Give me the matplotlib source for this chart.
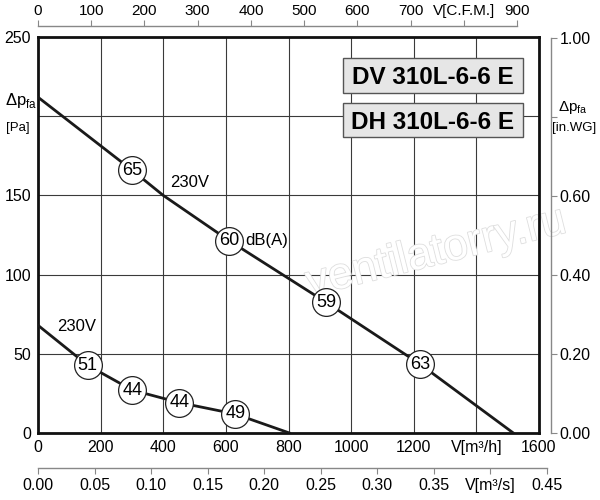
import matplotlib
matplotlib.use("Agg")
import matplotlib.pyplot as plt
import matplotlib.patheffects as pe
from matplotlib.patches import Rectangle

plt.rcParams['font.family'] = ['Liberation Sans', 'DejaVu Sans']

# --- data (m3/h, Pa) ---
flow_upper = [0, 300, 400, 610, 920, 1220, 1518]
pres_upper = [212, 166, 150, 121.5, 82.5, 43.5, 0]
flow_lower = [0, 159, 301, 451, 630, 803]
pres_lower = [68, 42.7, 27.1, 19.2, 12, 0]

# noise markers: (flow, pressure, dB)
mark_upper_flow = [300, 610, 920, 1220]
mark_upper_pres = [166, 121.5, 82.5, 43.5]
mark_upper_db = ["65", "60", "59", "63"]
mark_lower_flow = [159, 301, 451, 630]
mark_lower_pres = [42.7, 27.1, 19.2, 12]
mark_lower_db = ["51", "44", "44", "49"]

x_ticks = [0, 200, 400, 600, 800, 1000, 1200, 1400, 1600]
x_labels = ["0", "200", "400", "600", "800", "1000", "1200", "V[m³/h]", "1600"]
y_ticks = [0, 50, 100, 150, 200, 250]
y_labels = ["0", "50", "100", "150", "", "250"]
cfm_ticks = [0, 100, 200, 300, 400, 500, 600, 700, 800, 900]
cfm_labels = ["0", "100", "200", "300", "400", "500", "600", "700", "V[C.F.M.]", "900"]
m3s_ticks = [0.00, 0.05, 0.10, 0.15, 0.20, 0.25, 0.30, 0.35, 0.40, 0.45]
m3s_labels = ["0.00", "0.05", "0.10", "0.15", "0.20", "0.25", "0.30", "0.35", "V[m³/s]", "0.45"]
wg_ticks = [0.0, 0.2, 0.4, 0.6, 0.8, 1.0]
wg_labels = ["0.00", "0.20", "0.40", "0.60", "", "1.00"]
models = ["DV 310L-6-6 E", "DH 310L-6-6 E"]

W, H = 600, 500
fig = plt.figure(figsize=(6, 5), dpi=100)

L, R, T, B = 38, 539, 37, 433
ax = fig.add_axes([L / W, 1 - B / H, (R - L) / W, (B - T) / H])
ax.set_xlim(0, 1600)
ax.set_ylim(0, 250)
ax.set_xticks(x_ticks)
ax.set_xticklabels(x_labels)
ax.set_yticks(y_ticks)
ax.set_yticklabels(y_labels)
ax.tick_params(length=0, labelsize=11.5, pad=5)
ax.grid(True, color='#3a3a3a', linewidth=0.8)
ax.set_axisbelow(True)
for s in ax.spines.values():
    s.set_linewidth(2.0)
    s.set_color('#111111')

# watermark
ax.text(0.795, 0.455, "ventilatorry.ru", transform=ax.transAxes, rotation=14,
        fontsize=32, color='white', ha='center', va='center', zorder=1.5, clip_on=False,
        path_effects=[pe.withStroke(linewidth=1.2, foreground='#dedede')])

ax.plot(flow_upper, pres_upper, color='#1a1a1a', linewidth=2.0, zorder=3)
ax.plot(flow_lower, pres_lower, color='#1a1a1a', linewidth=2.0, zorder=3)

for fx, py, lab in list(zip(mark_upper_flow, mark_upper_pres, mark_upper_db)) + \
        list(zip(mark_lower_flow, mark_lower_pres, mark_lower_db)):
    ax.plot(fx, py, 'o', markersize=20, markerfacecolor='white',
            markeredgecolor='#222222', markeredgewidth=0.9, zorder=4)
    ax.text(fx, py, lab, ha='center', va='center', fontsize=13, zorder=5)

ax.text(422, 158, "230V", fontsize=12, va='center', ha='left', zorder=5)
ax.text(61, 67.4, "230V", fontsize=12, va='center', ha='left', zorder=5)
ax.text(661, 121.5, "dB(A)", fontsize=12, va='center', ha='left', zorder=5)

# model boxes
box_x0, box_w = (343 - L) / (R - L), 180 / (R - L)
box_y0 = [(B - 93) / (B - T), (B - 137) / (B - T)]
box_h = [35 / (B - T), 34 / (B - T)]
for i, m in enumerate(models):
    ax.add_patch(Rectangle((box_x0, box_y0[i]), box_w, box_h[i], transform=ax.transAxes,
                           facecolor='#e6e6e6', edgecolor='#555555', linewidth=1.0, zorder=6))
    ax.text(box_x0 + box_w / 2, box_y0[i] + box_h[i] / 2, m, transform=ax.transAxes,
            ha='center', va='center_baseline', fontsize=17.5, fontweight='bold', zorder=7)

# left axis label
fig.text(5 / W, 1 - 100 / H, "Δp$_{\\mathregular{fa}}$", fontsize=12, va='center', ha='left')
fig.text(6 / W, 1 - 128 / H, "[Pa]", fontsize=9.5, va='center', ha='left')

# top CFM axis
ytop = 26
axt = fig.add_axes([L / W, 1 - ytop / H, (517 - L) / W, 1e-5])
axt.set_xlim(0, 900)
axt.set_yticks([])
for k in ['left', 'right', 'bottom']:
    axt.spines[k].set_visible(False)
axt.spines['top'].set_color('#888888')
axt.spines['top'].set_linewidth(1.0)
axt.xaxis.tick_top()
axt.set_xticks(cfm_ticks)
axt.set_xticklabels(cfm_labels)
axt.tick_params(axis='x', direction='out', length=4, color='#888888', labelsize=11, pad=2)
axt.patch.set_visible(False)

# bottom m3/s axis
ybot = 468
axb = fig.add_axes([L / W, 1 - ybot / H, (547 - L) / W, 1e-5])
axb.set_xlim(0, 0.45)
axb.set_yticks([])
for k in ['left', 'right', 'top']:
    axb.spines[k].set_visible(False)
axb.spines['bottom'].set_color('#888888')
axb.spines['bottom'].set_linewidth(1.0)
axb.set_xticks(m3s_ticks)
axb.set_xticklabels(m3s_labels)
axb.tick_params(axis='x', direction='out', length=4, color='#888888', labelsize=11.5, pad=3)
axb.patch.set_visible(False)

# right in.WG axis
xr = 551
top_wg = B - 249.09 * (B - T) / 250
axr = fig.add_axes([xr / W, 1 - B / H, 1e-5, (B - top_wg) / H])
axr.set_ylim(0, 1.0)
axr.set_xticks([])
for k in ['left', 'top', 'bottom']:
    axr.spines[k].set_visible(False)
axr.spines['right'].set_color('#888888')
axr.spines['right'].set_linewidth(1.0)
axr.yaxis.tick_right()
axr.set_yticks(wg_ticks)
axr.set_yticklabels(wg_labels)
axr.tick_params(axis='y', direction='out', length=4, color='#888888', labelsize=11.5, pad=2)
axr.patch.set_visible(False)

fig.text(573 / W, 1 - 108 / H, "Δp$_{\\mathregular{fa}}$", fontsize=11, va='center', ha='center')
fig.text(574 / W, 1 - 128 / H, "[in.WG]", fontsize=9.5, va='center', ha='center')

fig.savefig("out.png", dpi=100)
